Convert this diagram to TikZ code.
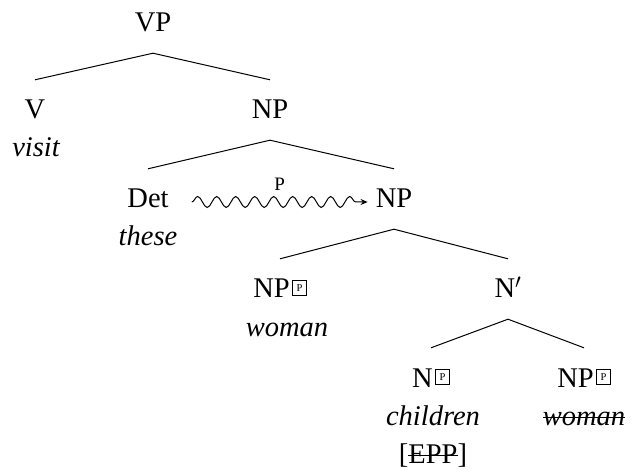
\documentclass[tikz,border=0pt]{standalone}
\usepackage{fontspec}
\setmainfont{Liberation Serif}
\usetikzlibrary{decorations.pathmorphing,arrows.meta}
\newcommand{\pmark}{\hspace{2.5pt}\raisebox{6.5pt}{\setlength{\fboxsep}{3.6pt}\setlength{\fboxrule}{0.7pt}\fbox{\fontsize{10.5}{10.5}\selectfont P}}}
\newsavebox{\strkbox}
\newcommand{\strk}[1]{\sbox{\strkbox}{#1}\rlap{\rule[0.25em]{\wd\strkbox}{0.9pt}}\usebox{\strkbox}}
\begin{document}
\begin{tikzpicture}[x=1pt,y=-1pt,
  cat/.style={font=\fontsize{28.5}{32}\selectfont, text height=18pt, text depth=0pt, inner xsep=0pt, inner ysep=21pt, anchor=base},
  word/.style={font=\fontsize{28.5}{32}\selectfont\itshape, inner sep=0pt, anchor=base},
  branch/.style={line width=1pt},
  wavy/.style={line width=1pt, decorate, decoration={snake, amplitude=5.5pt, segment length=19pt, post length=3pt}, -{Stealth[length=7pt,width=6pt]}},
  lbl/.style={font=\fontsize{19}{22}\selectfont, inner sep=0pt}]
\useasboundingbox (0,0) rectangle (634,470);
% categories
\node[cat] (VP) at (153,32) {VP};
\node[cat] (V) at (35,119) {V};
\node[cat] (NPa) at (270,119) {NP};
\node[cat] (Det) at (148,208) {Det};
\node[cat] (NPb) at (394,208) {NP};
\node[cat] (NPc) at (280,298) {NP\pmark};
\node[cat] (Nbar) at (508,298) {N$'$};
\node[cat] (N) at (431,387) {N\pmark};
\node[cat] (NPd) at (584,387) {NP\pmark};
% words
\node[word] (visit) at (36,157) {visit};
\node[word] (these) at (148,246) {these};
\node[word] (woman) at (287,336) {woman};
\node[word] (children) at (433,425) {children};
\node[word, font=\fontsize{28.5}{32}\selectfont] (epp) at (433,463) {[\strk{EPP}]};
\node[word] (womanb) at (584,425) {\strk{woman}};
% branches
\draw[branch] (VP.south) -- (V.north);
\draw[branch] (VP.south) -- (NPa.north);
\draw[branch] (NPa.south) -- (Det.north);
\draw[branch] (NPa.south) -- (NPb.north);
\draw[branch] (NPb.south) -- (NPc.north);
\draw[branch] (NPb.south) -- (Nbar.north);
\draw[branch] (Nbar.south) -- (N.north);
\draw[branch] (Nbar.south) -- (NPd.north);
% wavy arrow
\draw[wavy] ([xshift=23pt,yshift=-3pt]Det.east) -- node[lbl, midway, above=11pt] (plab) {P} ([xshift=-8pt,yshift=-3pt]NPb.west);
\end{tikzpicture}
\end{document}
